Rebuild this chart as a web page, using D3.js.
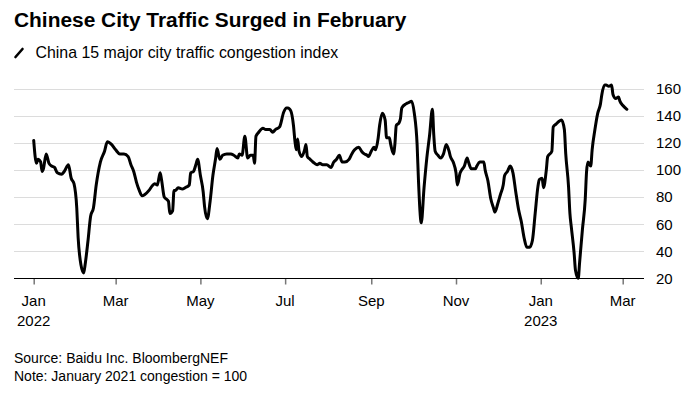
<!DOCTYPE html>
<html>
<head>
<meta charset="utf-8">
<script src="https://cdn.jsdelivr.net/npm/d3@7"></script>
<style>
  body { margin: 0; background: #fff; }
  svg { display: block; font-family: "Liberation Sans", Arial, sans-serif; }
</style>
</head>
<body>
<svg id="chart"></svg>
<script>
const title = "Chinese City Traffic Surged in February";
const subtitle = "China 15 major city traffic congestion index";
const sourceText = "Source: Baidu Inc. BloombergNEF";
const noteText = "Note: January 2021 congestion = 100";

// days counted from 2022-01-01
const dayIndex = [
  0, 2, 3, 5, 6, 7, 9, 11, 13, 15, 17, 20, 22, 25, 27, 29, 31, 32, 34, 36,
  37, 39, 41, 43, 45, 48, 51, 53, 56, 59, 62, 65, 68, 70, 72, 74, 76, 78, 80, 83,
  85, 87, 89, 91, 92, 94, 95, 97, 98, 100, 101, 102, 104, 107, 109, 112, 113, 115, 117, 118,
  120, 122, 123, 125, 127, 129, 131, 132, 134, 136, 139, 142, 144, 147, 148, 150, 152, 154, 156, 158,
  159, 160, 162, 165, 167, 170, 172, 174, 177, 180, 182, 183, 185, 187, 188, 189, 190, 191, 193, 195,
  196, 197, 199, 201, 204, 206, 208, 211, 214, 216, 218, 220, 222, 224, 227, 229, 231, 234, 236, 238,
  240, 241, 243, 245, 246, 248, 249, 251, 253, 254, 256, 257, 259, 260, 261, 263, 264, 265, 268, 270,
  272, 274, 276, 277, 279, 281, 283, 285, 287, 288, 289, 291, 293, 295, 297, 299, 300, 302, 304, 305,
  307, 308, 310, 312, 313, 315, 318, 319, 321, 324, 325, 327, 329, 331, 332, 334, 336, 338, 339, 341,
  343, 345, 347, 349, 351, 353, 355, 357, 359, 361, 363, 364, 366, 367, 369, 370, 373, 374, 376, 378,
  380, 382, 383, 385, 386, 387, 389, 390, 392, 393, 395, 397, 398, 399, 401, 402, 404, 406, 408, 409,
  411, 412, 414, 416, 417, 419, 421, 422, 424, 427
];

const congestion = [
  122, 105, 108, 106, 99, 101, 112, 105, 103, 102, 98, 97, 99, 104, 94, 90, 72, 50, 30, 24,
  30, 47, 66, 72, 89, 106, 114, 121, 119, 115, 112, 112, 110, 104, 99, 91, 85, 81, 82, 85,
  88, 90, 89, 98, 93, 80, 79, 77, 68, 70, 85, 85, 87, 86, 87, 89, 98, 99, 105, 108,
  96, 84, 73, 64, 77, 96, 109, 116, 108, 111, 112, 112, 111, 109, 112, 111, 125, 109, 111, 111,
  105, 125, 128, 131, 130, 130, 128, 130, 132, 143, 146, 146, 144, 133, 122, 115, 123, 114, 110, 115,
  119, 110, 108, 106, 104, 105, 104, 104, 102, 106, 108, 111, 106, 106, 108, 112, 115, 117, 114, 112,
  111, 110, 114, 117, 115, 124, 133, 142, 137, 124, 124, 119, 112, 119, 133, 135, 138, 146, 149, 150,
  151, 142, 119, 92, 61, 87, 109, 126, 145, 126, 114, 111, 109, 112, 119, 114, 110, 106, 98, 89,
  98, 100, 103, 109, 106, 101, 101, 103, 106, 106, 100, 92, 79, 72, 69, 75, 82, 89, 96, 99,
  103, 98, 84, 71, 62, 50, 43, 43, 48, 68, 88, 93, 94, 87, 100, 110, 114, 132, 134, 136,
  137, 130, 112, 88, 68, 58, 39, 26, 20, 32, 56, 78, 99, 106, 103, 115, 130, 142, 149, 156,
  163, 163, 162, 163, 156, 153, 154, 151, 148, 145
];

const yTicks = [20, 40, 60, 80, 100, 120, 140, 160];
const monthNames = ["Jan", "Feb", "Mar", "Apr", "May", "Jun", "Jul", "Aug", "Sep", "Oct", "Nov", "Dec"];

const width = 700;
const height = 399;
const plotLeft = 14;
const plotRight = 644;

const start = new Date(2022, 0, 1);
const data = dayIndex.map((d, i) => ({
  date: d3.timeDay.offset(start, d),
  value: congestion[i],
}));

const x = d3
  .scaleTime()
  .domain([new Date(2022, 0, 1), new Date(2023, 2, 1)])
  .range([33.7, 622.7]);

const y = d3.scaleLinear().domain([20, 160]).range([278.3, 89]);

const svg = d3
  .select("#chart")
  .attr("width", width)
  .attr("height", height)
  .attr("viewBox", [0, 0, width, height]);

// title and subtitle
svg
  .append("text")
  .attr("x", 14)
  .attr("y", 27)
  .attr("font-size", 20.9)
  .attr("font-weight", "bold")
  .attr("fill", "#000")
  .text(title);

svg
  .append("line")
  .attr("x1", 15.5)
  .attr("y1", 57)
  .attr("x2", 22.5)
  .attr("y2", 49)
  .attr("stroke", "#000")
  .attr("stroke-width", 2.6)
  .attr("stroke-linecap", "round");

svg
  .append("text")
  .attr("x", 35.5)
  .attr("y", 57.5)
  .attr("font-size", 15.9)
  .attr("fill", "#000")
  .text(subtitle);

// gridlines
svg
  .append("g")
  .selectAll("line")
  .data(yTicks.filter((d) => d !== 20))
  .join("line")
  .attr("x1", plotLeft)
  .attr("x2", plotRight)
  .attr("y1", (d) => Math.round(y(d)) + 0.5)
  .attr("y2", (d) => Math.round(y(d)) + 0.5)
  .attr("stroke", "#dcdcdc")
  .attr("stroke-width", 1.2);

// y axis on the right
const yAxis = svg
  .append("g")
  .attr("transform", `translate(${plotRight},0)`)
  .call(d3.axisRight(y).tickValues(yTicks).tickSize(0).tickPadding(12));

yAxis.select(".domain").remove();
yAxis
  .selectAll("text")
  .attr("font-size", 15)
  .attr("font-family", "Liberation Sans, Arial, sans-serif")
  .attr("fill", "#000");

// x axis
const xTicks = d3.timeMonth.every(2).range(new Date(2022, 0, 1), new Date(2023, 2, 2));

const xAxis = svg
  .append("g")
  .attr("transform", `translate(0,${Math.round(y(20)) + 0.5})`)
  .call(d3.axisBottom(x).tickValues(xTicks).tickSize(6).tickFormat(""));

xAxis.select(".domain").remove();
xAxis.selectAll(".tick line").attr("stroke", "#777").attr("stroke-width", 1.5);

const tickLabels = svg
  .append("g")
  .attr("font-size", 15)
  .attr("fill", "#000")
  .attr("text-anchor", "middle")
  .selectAll("text")
  .data(xTicks)
  .join("text")
  .attr("x", (d) => x(d))
  .attr("y", 306);

tickLabels
  .append("tspan")
  .attr("x", (d) => x(d))
  .text((d) => monthNames[d.getMonth()]);

tickLabels
  .filter((d) => d.getMonth() === 0)
  .append("tspan")
  .attr("x", (d) => x(d))
  .attr("dy", 19.5)
  .text((d) => d.getFullYear());

// baseline
svg
  .append("line")
  .attr("x1", plotLeft)
  .attr("x2", plotRight)
  .attr("y1", Math.round(y(20)) + 0.5)
  .attr("y2", Math.round(y(20)) + 0.5)
  .attr("stroke", "#000")
  .attr("stroke-width", 1.2);

// the series
const line = d3
  .line()
  .x((d) => x(d.date))
  .y((d) => y(d.value))
  .curve(d3.curveMonotoneX);

svg
  .append("path")
  .datum(data)
  .attr("fill", "none")
  .attr("stroke", "#000")
  .attr("stroke-width", 3)
  .attr("stroke-linejoin", "round")
  .attr("stroke-linecap", "round")
  .attr("d", line);

// footer
svg
  .append("text")
  .attr("x", 14)
  .attr("y", 363)
  .attr("font-size", 14)
  .attr("fill", "#000")
  .text(sourceText);

svg
  .append("text")
  .attr("x", 14)
  .attr("y", 380.5)
  .attr("font-size", 14)
  .attr("fill", "#000")
  .text(noteText);
</script>
</body>
</html>
